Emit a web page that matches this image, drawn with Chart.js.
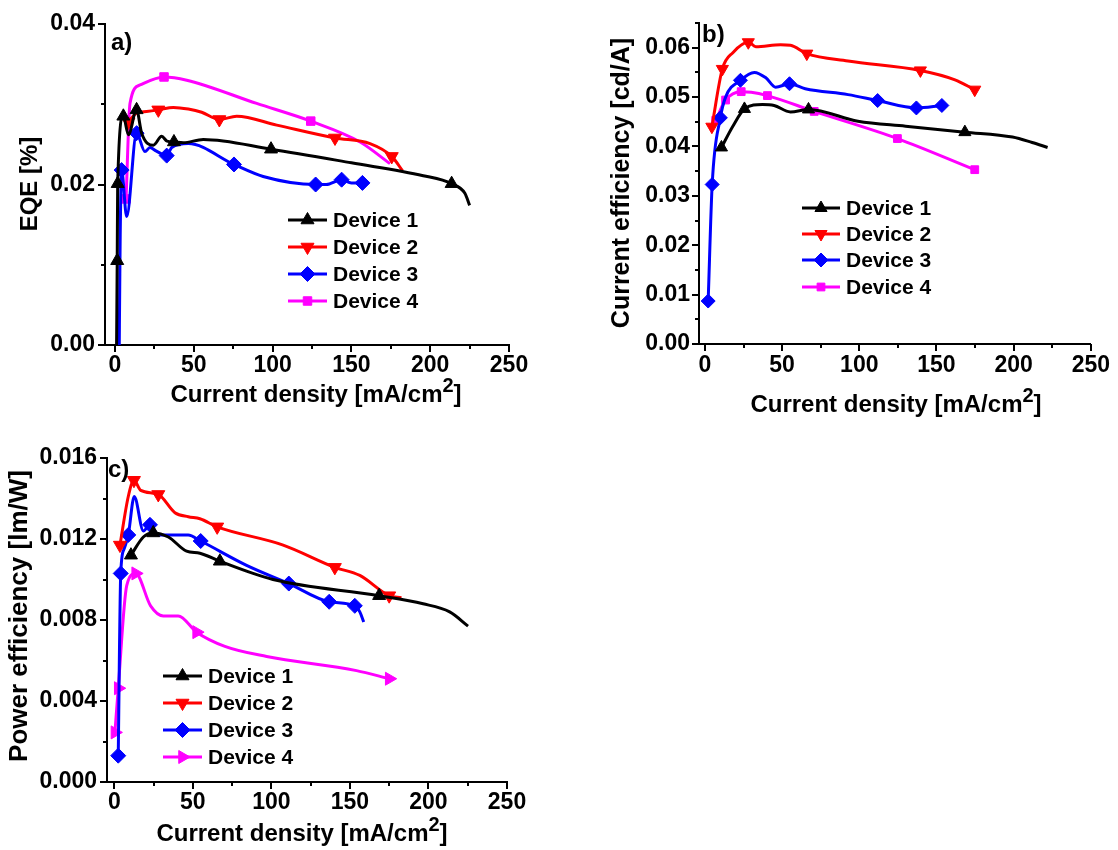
<!DOCTYPE html>
<html><head><meta charset="utf-8">
<script src="https://cdn.jsdelivr.net/npm/chart.js@4.4.1/dist/chart.umd.min.js"></script>
<style>
html,body{margin:0;padding:0;background:#fff;}
body{width:1118px;height:850px;position:relative;overflow:hidden;}
canvas{position:absolute;}
</style></head><body>
<canvas id="ca" style="left:0px;top:0px;width:540px;height:420px" width="540" height="420"></canvas>
<canvas id="cb" style="left:560px;top:0px;width:558px;height:430px" width="558" height="430"></canvas>
<canvas id="cc" style="left:0px;top:430px;width:540px;height:420px" width="540" height="420"></canvas>
<script>
// ---------- data ----------
const seriesNames = ['Device 1', 'Device 2', 'Device 3', 'Device 4'];
const xTickValues = [0, 50, 100, 150, 200, 250];
const eqeTicks = [0, 0.02, 0.04];
const ceTicks = [0, 0.01, 0.02, 0.03, 0.04, 0.05, 0.06];
const peTicks = [0, 0.004, 0.008, 0.012, 0.016];

// a) EQE [%]
const eqeD1x = [1.0, 1.4, 1.7, 5.3, 8.5, 13.7, 16.9, 24.3, 29.6, 33, 37.4, 43.3, 56, 99, 150, 195.6, 213.6, 222, 225];
const eqeD1y = [0, 0.0105, 0.0201, 0.0285, 0.0262, 0.0293, 0.0264, 0.0249, 0.026, 0.0254, 0.0253, 0.0252, 0.0256, 0.0244, 0.0227, 0.0211, 0.0201, 0.0189, 0.0174];
const eqeD2x = [8.5, 13.7, 20, 27.5, 37, 46.5, 55, 66.2, 77.2, 102.6, 139.6, 161.8, 175.6, 182.5];
const eqeD2y = [0.0278, 0.0289, 0.0291, 0.0293, 0.0296, 0.0294, 0.029, 0.0281, 0.0285, 0.0274, 0.0258, 0.0251, 0.0235, 0.0217];
const eqeD3x = [2.7, 3.0, 3.3, 4.2, 7.4, 13.7, 19, 22.2, 26, 32.8, 36, 46.5, 75.5, 94, 127.3, 134, 143.8, 150, 157];
const eqeD3y = [0, 0.0073, 0.0137, 0.0218, 0.016, 0.0264, 0.0241, 0.0246, 0.0242, 0.0236, 0.0246, 0.0251, 0.0225, 0.021, 0.02, 0.02, 0.0206, 0.0202, 0.0202];
const eqeD4x = [7, 9.5, 15.9, 31.1, 45.5, 89.9, 124.2, 155.5, 174.5];
const eqeD4y = [0.0182, 0.0301, 0.0324, 0.0334, 0.033, 0.0301, 0.0279, 0.0253, 0.0226];

// b) Current efficiency [cd/A]
const ceD1x = [10.7, 18.1, 25.6, 37.3, 44.8, 55.4, 67.1, 99.1, 130, 168.4, 199.3, 212, 222];
const ceD1y = [0.0398, 0.0441, 0.0476, 0.0485, 0.0483, 0.047, 0.0475, 0.0451, 0.0441, 0.0429, 0.0419, 0.0408, 0.0398];
const ceD2x = [4.5, 11.3, 18.1, 28.1, 33, 49, 55.4, 66, 92.7, 139.6, 162, 174.8];
const ceD2y = [0.044, 0.0557, 0.059, 0.0611, 0.0602, 0.0606, 0.0605, 0.0588, 0.0573, 0.0554, 0.0535, 0.0515];
const ceD3x = [2.1, 4.7, 10, 13.4, 23, 32, 39.5, 45.8, 54.8, 65, 92.7, 111.9, 137, 153.5];
const ceD3y = [0.0087, 0.0323, 0.0458, 0.05, 0.0534, 0.055, 0.0539, 0.052, 0.0527, 0.0517, 0.0505, 0.0493, 0.0478, 0.0483];
const ceD4x = [7, 13.4, 23.5, 30, 40.5, 70.8, 124.7, 174.8];
const ceD4y = [0.0453, 0.0494, 0.0511, 0.051, 0.0503, 0.0471, 0.0416, 0.0353];

// c) Power efficiency [lm/W]
const peD1x = [10.6, 18.5, 24.8, 34.4, 46, 54.5, 67.2, 101, 168.6, 196.6, 213.5, 225.2];
const peD1y = [0.0112, 0.0121, 0.0123, 0.0121, 0.0114, 0.0113, 0.0109, 0.01, 0.0092, 0.0088, 0.0084, 0.0077];
const peD2x = [3.6, 8.9, 12.5, 16.8, 28, 38.6, 47.1, 54.5, 65.5, 107.5, 140.4, 156.3, 175, 182.8];
const peD2y = [0.0117, 0.0141, 0.0149, 0.0144, 0.0142, 0.0133, 0.0131, 0.013, 0.0126, 0.0117, 0.0106, 0.0102, 0.0092, 0.0091];
const peD3x = [2.5, 4.1, 6.2, 8.9, 12.7, 18.5, 22.7, 28, 47, 55, 84.2, 111.1, 136.8, 153.1, 156.3, 158.8];
const peD3y = [0.0013, 0.0103, 0.0115, 0.0122, 0.0141, 0.0124, 0.0127, 0.0122, 0.0122, 0.0119, 0.0107, 0.0098, 0.0089, 0.0087, 0.0084, 0.0079];
const peD4x = [0.4, 2.5, 7.9, 13.6, 23.1, 31.2, 40.7, 52.4, 70.4, 97, 154.2, 175];
const peD4y = [0.00245, 0.00463, 0.0097, 0.0103, 0.0087, 0.0082, 0.0082, 0.0074, 0.0067, 0.0062, 0.0055, 0.0051];

// ---------- styles ----------
const FONT = '"Liberation Sans", Arial, Helvetica, sans-serif';
const colors = ['#000000', '#ff0000', '#0000ff', '#ff00ff'];

Chart.defaults.font.family = FONT;
Chart.defaults.color = '#000';

function drawMarker(ctx, style, rot, r, x, y, color) {
  ctx.save();
  ctx.fillStyle = color; ctx.strokeStyle = color; ctx.lineWidth = 1;
  if (Chart.helpers && Chart.helpers.drawPoint) {
    Chart.helpers.drawPoint(ctx, {pointStyle: style, rotation: rot, radius: r, borderWidth: 1}, x, y);
  }
  ctx.restore();
}

const decor = {
  id: 'decor',
  afterDraw(chart, args, o) {
    const ctx = chart.ctx, xs = chart.scales.x, ys = chart.scales.y, ca = chart.chartArea;
    ctx.save();
    ctx.strokeStyle = '#000'; ctx.lineWidth = 2;
    // x ticks (major + minor, outward)
    const nx = Math.round(250 / o.xMinor);
    for (let i = 0; i <= nx; i++) {
      const p = Math.round(xs.getPixelForValue(i * o.xMinor));
      const len = i % 2 === 0 ? 7 : 4;
      ctx.beginPath(); ctx.moveTo(p, ca.bottom); ctx.lineTo(p, ca.bottom + len); ctx.stroke();
    }
    const ny = Math.round(ys.max / o.yMinor + 1e-6);
    for (let i = 0; i <= ny; i++) {
      const p = Math.round(ys.getPixelForValue(i * o.yMinor));
      const len = i % 2 === 0 ? 7 : 4;
      ctx.beginPath(); ctx.moveTo(ca.left, p); ctx.lineTo(ca.left - len, p); ctx.stroke();
    }
    ctx.fillStyle = '#000';
    // x title with superscript
    const t = o.xTitle;
    ctx.textBaseline = 'alphabetic'; ctx.textAlign = 'left';
    ctx.font = 'bold 24px ' + FONT; const w1 = ctx.measureText(t.main).width; const w3 = ctx.measureText(t.tail).width;
    ctx.font = 'bold 20px ' + FONT; const w2 = ctx.measureText(t.sup).width;
    let x = t.cx - (w1 + w2 + w3) / 2;
    ctx.font = 'bold 24px ' + FONT; ctx.fillText(t.main, x, t.baseline); x += w1;
    ctx.font = 'bold 20px ' + FONT; ctx.fillText(t.sup, x, t.baseline - 10); x += w2;
    ctx.font = 'bold 24px ' + FONT; ctx.fillText(t.tail, x, t.baseline);
    // y title
    const yt = o.yTitle;
    ctx.save(); ctx.translate(yt.cx, yt.cy); ctx.rotate(-Math.PI / 2);
    ctx.textAlign = 'center'; ctx.textBaseline = 'middle'; ctx.font = 'bold ' + yt.size + 'px ' + FONT;
    ctx.fillText(yt.text, 0, 0); ctx.restore();
    // panel label
    ctx.font = 'bold 24px ' + FONT; ctx.textAlign = 'left'; ctx.textBaseline = 'alphabetic';
    ctx.fillText(o.panel.text, o.panel.x, o.panel.y);
    // legend
    const lg = o.legend;
    chart.data.datasets.forEach((ds, i) => {
      const y = lg.ys[i];
      ctx.strokeStyle = ds.borderColor; ctx.lineWidth = 3;
      ctx.beginPath(); ctx.moveTo(lg.x0, y); ctx.lineTo(lg.x1, y); ctx.stroke();
      drawMarker(ctx, ds.pointStyle, ds.pointRotation, ds.markerR, (lg.x0 + lg.x1) / 2, y, ds.borderColor);
      ctx.fillStyle = '#000'; ctx.font = 'bold 21px ' + FONT; ctx.textBaseline = 'middle'; ctx.textAlign = 'left';
      ctx.fillText(ds.label, lg.textX, y + 1);
    });
    ctx.restore();
  }
};

function makeChart(id, cfg) {
  const datasets = cfg.series.map((s, i) => {
    const st = cfg.styles[i];
    const rad = ctx => (st.marks.includes(ctx.dataIndex) ? st.r : 0);
    return {
      label: seriesNames[i],
      data: s[0].map((x, j) => ({x: x, y: s[1][j]})),
      showLine: true,
      borderColor: colors[i], backgroundColor: colors[i],
      borderWidth: 3,
      cubicInterpolationMode: 'monotone',
      pointStyle: st.style, pointRotation: st.rot, markerR: st.r,
      pointRadius: rad, pointHoverRadius: rad, pointBorderWidth: 1,
      clip: false
    };
  });
  return new Chart(document.getElementById(id), {
    type: 'scatter',
    data: {datasets: datasets},
    options: {
      responsive: false, animation: false, events: [],
      layout: {padding: cfg.padding},
      plugins: {legend: {display: false}, tooltip: {enabled: false}, decor: cfg.decor},
      scales: {
        x: {
          type: 'linear', min: cfg.xmin, max: 250,
          border: {display: true, color: '#000', width: 2},
          grid: {display: false, drawTicks: false},
          ticks: {font: {size: 23, weight: 'bold'}, color: '#000', padding: cfg.xPad, maxRotation: 0, autoSkip: false,
                  callback: v => String(v)},
          afterBuildTicks: s => { s.ticks = xTickValues.map(v => ({value: v})); },
          afterFit: s => { s.height = cfg.xH; }
        },
        y: {
          type: 'linear', min: 0, max: cfg.ymax,
          border: {display: true, color: '#000', width: 2},
          grid: {display: false, drawTicks: false},
          ticks: {font: {size: 23, weight: 'bold'}, color: '#000', padding: cfg.yPad, autoSkip: false,
                  callback: v => v.toFixed(cfg.dec)},
          afterBuildTicks: s => { s.ticks = cfg.yTicks.map(v => ({value: v})); },
          afterFit: s => { s.width = cfg.yW; }
        }
      }
    },
    plugins: [decor]
  });
}

const triUp = {style: 'triangle', rot: 0}, triDown = {style: 'triangle', rot: 180},
      diamond = {style: 'rectRot', rot: 0}, square = {style: 'rect', rot: 0}, triRight = {style: 'triangle', rot: 90};

makeChart('ca', {
  series: [[eqeD1x, eqeD1y], [eqeD2x, eqeD2y], [eqeD3x, eqeD3y], [eqeD4x, eqeD4y]],
  styles: [
    Object.assign({r: 7.5, marks: [1, 2, 3, 5, 10, 13, 16]}, triUp),
    Object.assign({r: 7.5, marks: [0, 3, 7, 10, 12]}, triDown),
    Object.assign({r: 7.5, marks: [3, 5, 9, 12, 14, 16, 18]}, diamond),
    Object.assign({r: 6, marks: [0, 3, 6]}, square)
  ],
  padding: {left: 0, top: 24, right: 31, bottom: 0},
  xmin: -6.35, ymax: 0.04, yTicks: eqeTicks, dec: 2, xH: 75, yW: 105, xPad: 7, yPad: 10,
  decor: {xMinor: 25, yMinor: 0.01,
    xTitle: {main: 'Current density [mA/cm', sup: '2', tail: ']', cx: 316, baseline: 402},
    yTitle: {text: 'EQE [%]', cx: 30, cy: 184, size: 24},
    panel: {text: 'a)', x: 111, y: 50},
    legend: {x0: 288, x1: 327, textX: 333, ys: [220, 247, 274, 301]}}
});

makeChart('cb', {
  series: [[ceD1x, ceD1y], [ceD2x, ceD2y], [ceD3x, ceD3y], [ceD4x, ceD4y]],
  styles: [
    Object.assign({r: 7, marks: [0, 2, 6, 9]}, triUp),
    Object.assign({r: 7, marks: [0, 1, 3, 7, 9, 11]}, triDown),
    Object.assign({r: 7, marks: [0, 1, 2, 4, 8, 11, 12, 13]}, diamond),
    Object.assign({r: 5.5, marks: [0, 1, 2, 4, 5, 6, 7]}, square)
  ],
  padding: {left: 0, top: 23, right: 22, bottom: 0},
  xmin: -3.84, ymax: 0.065, yTicks: ceTicks, dec: 2, xH: 86, yW: 139, xPad: 8, yPad: 9,
  decor: {xMinor: 25, yMinor: 0.005,
    xTitle: {main: 'Current density [mA/cm', sup: '2', tail: ']', cx: 336, baseline: 412},
    yTitle: {text: 'Current efficiency [cd/A]', cx: 62, cy: 183, size: 25},
    panel: {text: 'b)', x: 142, y: 42},
    legend: {x0: 242, x1: 280, textX: 286, ys: [208, 234, 260, 287]}}
});

makeChart('cc', {
  series: [[peD1x, peD1y], [peD2x, peD2y], [peD3x, peD3y], [peD4x, peD4y]],
  styles: [
    Object.assign({r: 7.5, marks: [0, 2, 6, 8]}, triUp),
    Object.assign({r: 7.5, marks: [0, 2, 4, 8, 10, 12]}, triDown),
    Object.assign({r: 7.5, marks: [0, 1, 3, 6, 9, 11, 12, 13]}, diamond),
    Object.assign({r: 7.5, marks: [0, 1, 3, 7, 11]}, triRight)
  ],
  padding: {left: 0, top: 28, right: 33, bottom: 0},
  xmin: -4.65, ymax: 0.016, yTicks: peTicks, dec: 3, xH: 68, yW: 107, xPad: 7, yPad: 10,
  decor: {xMinor: 25, yMinor: 0.002,
    xTitle: {main: 'Current density [mA/cm', sup: '2', tail: ']', cx: 302, baseline: 411},
    yTitle: {text: 'Power efficiency [lm/W]', cx: 20, cy: 186, size: 26},
    panel: {text: 'c)', x: 108, y: 47},
    legend: {x0: 163, x1: 202, textX: 208, ys: [246, 273, 300, 327]}}
});
</script>
</body></html>
